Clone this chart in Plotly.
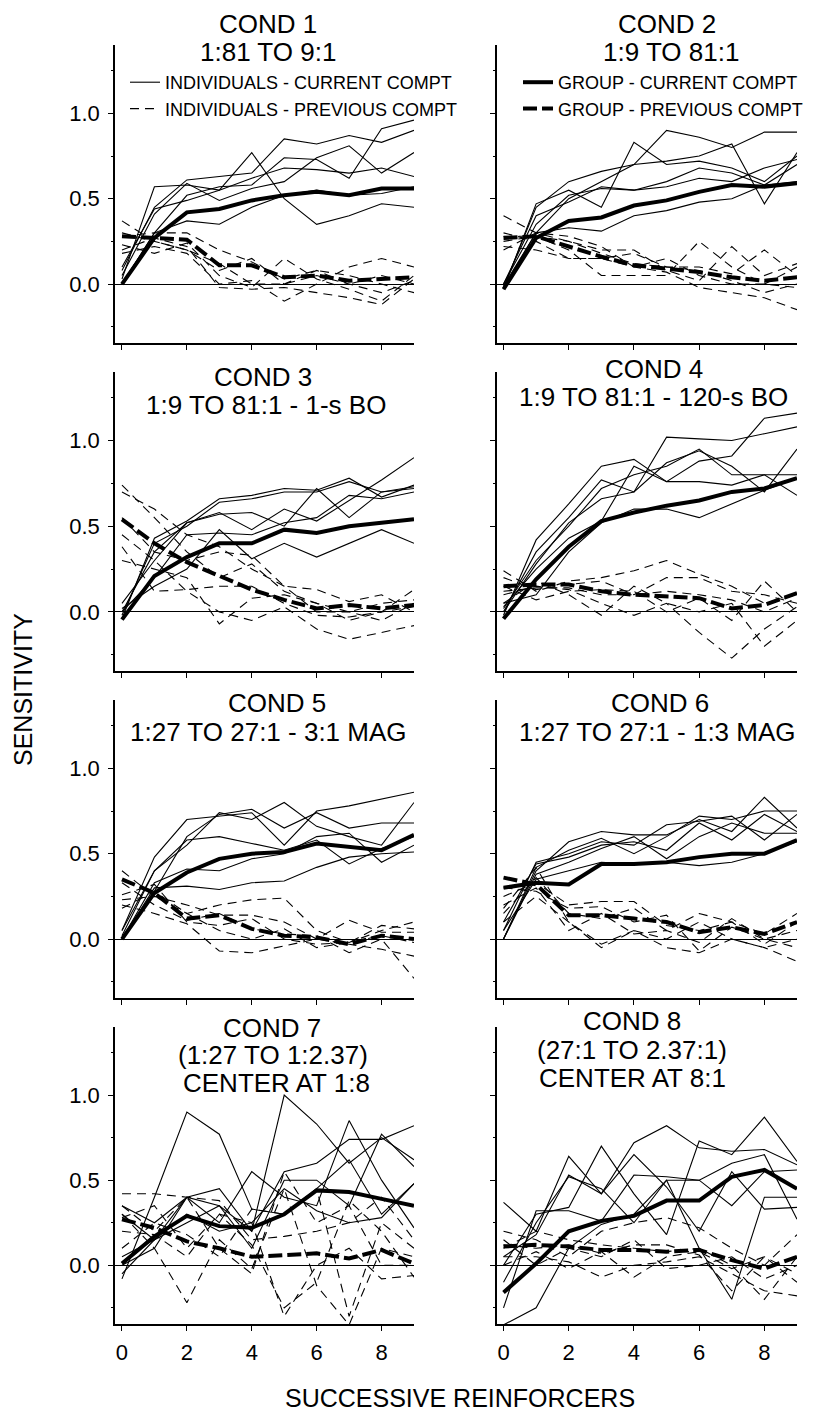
import plotly.graph_objects as go

# ---------------- data ----------------
reinforcers = [0, 1, 2, 3, 4, 5, 6, 7, 8, 9]
x_tick_vals = [0, 2, 4, 6, 8]
y_tick_vals = [0.0, 0.5, 1.0]
y_tick_text = ["0.0", "0.5", "1.0"]

cond_titles = [
    ["COND 1", "1:81 TO 9:1"],
    ["COND 2", "1:9 TO 81:1"],
    ["COND 3", "1:9 TO 81:1 - 1-s BO"],
    ["COND 4", "1:9 TO 81:1 - 120-s BO"],
    ["COND 5", "1:27 TO 27:1 - 3:1 MAG"],
    ["COND 6", "1:27 TO 27:1 - 1:3 MAG"],
    ["COND 7", "(1:27 TO 1:2.37)", "CENTER AT 1:8"],
    ["COND 8", "(27:1 TO 2.37:1)", "CENTER AT 8:1"],
]

legend_names = ["INDIVIDUALS - CURRENT COMPT", "INDIVIDUALS - PREVIOUS COMPT",
                "GROUP - CURRENT COMPT", "GROUP - PREVIOUS COMPT"]

# COND 1
c1_ind_cur = [
    [0.03, 0.57, 0.58, 0.55, 0.77, 0.50, 0.35, 0.40, 0.47, 0.45],
    [0.08, 0.45, 0.61, 0.63, 0.65, 0.85, 0.82, 0.87, 0.83, 0.90],
    [0.00, 0.30, 0.52, 0.57, 0.58, 0.74, 0.73, 0.62, 0.91, 0.96],
    [0.05, 0.41, 0.59, 0.49, 0.56, 0.60, 0.74, 0.81, 0.65, 0.77],
    [0.10, 0.44, 0.49, 0.55, 0.62, 0.68, 0.67, 0.65, 0.68, 0.63],
    [0.00, 0.30, 0.37, 0.35, 0.45, 0.52, 0.55, 0.52, 0.53, 0.57],
]
c1_ind_prev = [
    [0.37, 0.25, 0.20, 0.12, 0.00, 0.00, 0.05, 0.00, -0.05, 0.02],
    [0.28, 0.30, 0.30, 0.20, 0.13, 0.03, 0.08, 0.05, 0.00, -0.05],
    [0.23, 0.18, 0.24, 0.05, -0.02, 0.15, 0.03, -0.03, -0.10, 0.05],
    [0.18, 0.22, 0.18, 0.00, 0.02, -0.10, 0.00, 0.10, 0.15, 0.10],
    [0.30, 0.25, 0.20, 0.08, 0.15, 0.00, 0.08, 0.00, 0.05, 0.00],
    [0.20, 0.27, 0.22, -0.02, -0.03, -0.02, -0.05, -0.08, -0.12, 0.03],
]
c1_grp_cur = [0.00, 0.27, 0.42, 0.44, 0.49, 0.52, 0.54, 0.52, 0.56, 0.56]
c1_grp_prev = [0.28, 0.27, 0.26, 0.11, 0.11, 0.04, 0.05, 0.02, 0.03, 0.04]

# COND 2
c2_ind_cur = [
    [-0.03, 0.47, 0.55, 0.45, 0.83, 0.70, 0.72, 0.68, 0.60, 0.75],
    [-0.02, 0.30, 0.50, 0.60, 0.70, 0.90, 0.86, 0.80, 0.89, 0.89],
    [-0.02, 0.45, 0.60, 0.66, 0.70, 0.72, 0.75, 0.82, 0.47, 0.77],
    [0.00, 0.35, 0.52, 0.56, 0.55, 0.57, 0.62, 0.60, 0.68, 0.73],
    [0.00, 0.40, 0.48, 0.57, 0.55, 0.60, 0.68, 0.65, 0.58, 0.70],
    [-0.01, 0.30, 0.33, 0.31, 0.40, 0.43, 0.48, 0.50, 0.58, 0.60],
]
c2_ind_prev = [
    [0.40, 0.30, 0.28, 0.22, 0.10, 0.15, 0.05, 0.00, 0.00, -0.02],
    [0.25, 0.28, 0.20, 0.05, 0.05, 0.05, 0.25, 0.10, 0.00, 0.10],
    [0.20, 0.30, 0.25, 0.20, 0.20, 0.08, 0.02, 0.22, 0.05, 0.12],
    [0.30, 0.25, 0.15, 0.15, 0.10, 0.07, -0.02, -0.05, -0.08, -0.15],
    [0.22, 0.20, 0.15, 0.15, 0.18, 0.10, 0.10, 0.06, 0.20, 0.05],
    [0.28, 0.28, 0.25, 0.18, 0.12, 0.10, 0.08, 0.02, -0.05, 0.00],
]
c2_grp_cur = [-0.03, 0.27, 0.37, 0.39, 0.46, 0.49, 0.54, 0.58, 0.57, 0.59]
c2_grp_prev = [0.27, 0.28, 0.22, 0.16, 0.11, 0.09, 0.07, 0.04, 0.02, 0.04]

# COND 3
c3_ind_cur = [
    [-0.04, 0.43, 0.53, 0.66, 0.68, 0.72, 0.71, 0.78, 0.67, 0.74],
    [-0.02, 0.40, 0.50, 0.64, 0.66, 0.70, 0.70, 0.76, 0.70, 0.73],
    [0.05, 0.30, 0.52, 0.58, 0.48, 0.60, 0.53, 0.65, 0.77, 0.90],
    [0.00, 0.35, 0.52, 0.57, 0.58, 0.50, 0.72, 0.55, 0.70, 0.72],
    [0.00, 0.20, 0.45, 0.46, 0.45, 0.52, 0.55, 0.68, 0.66, 0.70],
    [0.02, 0.15, 0.25, 0.48, 0.31, 0.40, 0.32, 0.40, 0.48, 0.40],
]
c3_ind_prev = [
    [0.74, 0.55, 0.35, 0.20, 0.28, 0.12, 0.05, -0.05, 0.00, 0.13],
    [0.70, 0.60, 0.45, 0.38, 0.25, 0.15, 0.00, 0.00, -0.05, 0.05],
    [0.45, 0.30, 0.12, 0.00, -0.05, 0.03, -0.10, -0.16, -0.12, -0.08],
    [0.55, 0.35, 0.30, 0.35, 0.33, 0.15, 0.13, 0.06, 0.10, 0.00],
    [0.38, 0.12, 0.13, 0.15, 0.15, 0.05, -0.02, -0.03, 0.00, 0.03],
    [0.30, 0.25, 0.20, -0.07, 0.08, 0.10, 0.05, 0.00, 0.05, 0.07],
]
c3_grp_cur = [-0.045, 0.21, 0.32, 0.40, 0.40, 0.48, 0.46, 0.50, 0.52, 0.54]
c3_grp_prev = [0.54, 0.40, 0.29, 0.21, 0.13, 0.07, 0.02, 0.04, 0.02, 0.04]

# COND 4
c4_ind_cur = [
    [-0.02, 0.42, 0.63, 0.85, 0.89, 0.76, 0.88, 0.91, 1.13, 1.16],
    [0.00, 0.35, 0.55, 0.77, 0.70, 1.02, 1.01, 1.00, 1.04, 1.08],
    [0.02, 0.30, 0.50, 0.72, 0.80, 0.85, 0.95, 0.80, 0.80, 0.80],
    [0.00, 0.28, 0.52, 0.66, 0.70, 0.87, 0.94, 0.85, 0.70, 0.95],
    [0.03, 0.25, 0.43, 0.53, 0.85, 0.76, 0.76, 0.74, 0.80, 0.68],
    [0.05, 0.10, 0.35, 0.52, 0.60, 0.60, 0.55, 0.63, 0.71, 0.78],
]
c4_ind_prev = [
    [0.24, 0.12, 0.18, 0.20, 0.24, 0.30, 0.22, 0.15, 0.05, 0.10],
    [0.20, 0.13, 0.16, 0.18, 0.10, 0.20, 0.20, 0.12, 0.10, 0.05],
    [0.10, 0.15, 0.13, 0.05, -0.02, 0.05, -0.12, -0.27, -0.10, 0.03],
    [0.15, 0.07, 0.12, 0.13, 0.12, 0.00, 0.08, -0.05, 0.18, 0.00],
    [0.05, 0.18, 0.10, -0.02, 0.15, 0.05, 0.00, 0.05, -0.20, -0.05],
    [0.12, 0.14, 0.14, 0.10, 0.10, 0.12, 0.10, 0.07, 0.00, 0.08],
]
c4_grp_cur = [-0.04, 0.19, 0.38, 0.53, 0.58, 0.62, 0.65, 0.70, 0.72, 0.78]
c4_grp_prev = [0.15, 0.16, 0.16, 0.12, 0.10, 0.09, 0.08, 0.02, 0.04, 0.11]

# COND 5
c5_ind_cur = [
    [0.05, 0.48, 0.70, 0.72, 0.74, 0.55, 0.75, 0.78, 0.82, 0.86],
    [0.02, 0.40, 0.55, 0.74, 0.70, 0.80, 0.66, 0.60, 0.55, 0.80],
    [0.00, 0.28, 0.60, 0.73, 0.76, 0.65, 0.74, 0.65, 0.68, 0.68],
    [0.05, 0.40, 0.58, 0.60, 0.56, 0.52, 0.58, 0.44, 0.53, 0.60],
    [0.00, 0.33, 0.41, 0.40, 0.47, 0.50, 0.60, 0.62, 0.45, 0.55],
    [0.00, 0.30, 0.31, 0.29, 0.33, 0.34, 0.42, 0.48, 0.50, 0.51],
]
c5_ind_prev = [
    [0.40, 0.25, 0.15, 0.20, 0.23, 0.24, 0.05, -0.02, 0.05, 0.10],
    [0.23, 0.25, 0.20, 0.14, 0.14, 0.10, 0.00, 0.11, 0.04, 0.04],
    [0.33, 0.20, 0.11, 0.15, 0.06, 0.03, 0.02, -0.08, 0.00, -0.23],
    [0.20, 0.15, 0.09, -0.07, -0.08, -0.04, 0.00, -0.03, -0.06, -0.10],
    [0.26, 0.32, 0.10, 0.08, 0.12, 0.00, -0.03, -0.02, 0.08, 0.06],
    [0.18, 0.28, 0.15, 0.05, 0.00, 0.06, -0.05, -0.02, 0.02, -0.02],
]
c5_grp_cur = [0.00, 0.27, 0.39, 0.47, 0.50, 0.51, 0.56, 0.54, 0.52, 0.61]
c5_grp_prev = [0.35, 0.27, 0.12, 0.14, 0.06, 0.02, 0.01, -0.03, 0.02, 0.00]

# COND 6
c6_ind_cur = [
    [0.00, 0.40, 0.57, 0.63, 0.61, 0.61, 0.70, 0.63, 0.83, 0.65],
    [0.05, 0.45, 0.50, 0.57, 0.55, 0.67, 0.69, 0.72, 0.58, 0.73],
    [0.00, 0.42, 0.52, 0.59, 0.50, 0.60, 0.72, 0.70, 0.75, 0.75],
    [0.10, 0.44, 0.48, 0.55, 0.57, 0.52, 0.68, 0.58, 0.73, 0.63],
    [0.00, 0.38, 0.45, 0.53, 0.60, 0.47, 0.60, 0.68, 0.62, 0.62],
    [0.05, 0.35, 0.40, 0.45, 0.44, 0.45, 0.43, 0.45, 0.50, 0.57],
]
c6_ind_prev = [
    [0.25, 0.33, 0.20, 0.22, 0.22, 0.08, 0.05, 0.10, 0.03, 0.15],
    [0.18, 0.42, 0.10, -0.05, 0.05, 0.00, 0.10, 0.00, -0.05, -0.13],
    [0.20, 0.30, 0.05, 0.15, 0.03, 0.05, -0.02, 0.12, 0.00, 0.05],
    [0.30, 0.28, 0.18, 0.19, 0.10, 0.14, -0.07, 0.07, 0.00, -0.05],
    [0.15, 0.36, 0.15, 0.12, 0.18, 0.05, 0.15, 0.10, -0.03, 0.10],
    [0.10, 0.25, 0.10, -0.03, 0.05, -0.05, -0.08, 0.00, -0.05, 0.00],
]
c6_grp_cur = [0.30, 0.33, 0.32, 0.44, 0.44, 0.45, 0.48, 0.50, 0.50, 0.58]
c6_grp_prev = [0.36, 0.32, 0.14, 0.14, 0.12, 0.10, 0.04, 0.07, 0.03, 0.10]

# COND 7
c7_ind_cur = [
    [-0.08, 0.40, 0.90, 0.77, 0.33, 0.30, 0.45, 0.62, 0.30, 0.48],
    [0.05, 0.15, 0.40, 0.35, 0.20, 1.00, 0.83, 0.60, 0.75, 0.62],
    [0.00, 0.10, 0.40, 0.25, 0.55, 0.40, 0.35, 0.85, 0.50, 0.22],
    [0.35, 0.25, 0.40, 0.45, 0.20, 0.55, 0.60, 0.74, 0.74, 0.82],
    [0.30, 0.15, 0.25, 0.35, 0.10, 0.50, 0.50, 0.35, 0.77, 0.58],
    [-0.05, 0.15, 0.30, 0.20, 0.25, 0.45, 0.32, 0.25, 0.28, 0.48],
]
c7_ind_prev = [
    [0.42, 0.42, 0.40, 0.38, 0.15, 0.17, 0.20, 0.25, 0.40, 0.15],
    [0.30, 0.10, -0.22, 0.15, -0.02, 0.45, -0.12, -0.35, 0.10, 0.05],
    [0.35, 0.20, 0.40, 0.10, -0.05, 0.55, 0.25, 0.35, 0.00, 0.00],
    [0.20, 0.18, 0.05, 0.30, 0.12, -0.25, -0.10, 0.38, 0.20, -0.07],
    [0.28, 0.35, 0.10, 0.30, 0.25, -0.30, 0.00, 0.10, -0.08, -0.06],
    [0.10, 0.25, 0.18, 0.05, 0.33, 0.30, 0.45, -0.30, 0.25, 0.10],
]
c7_grp_cur = [0.01, 0.17, 0.29, 0.23, 0.22, 0.30, 0.44, 0.43, 0.39, 0.35]
c7_grp_prev = [0.27, 0.22, 0.14, 0.10, 0.05, 0.06, 0.07, 0.04, 0.09, 0.01]

# COND 8
c8_ind_cur = [
    [0.37, 0.20, 0.64, 0.42, 0.72, 0.82, 0.69, 0.67, 0.68, 0.59],
    [0.00, 0.30, 0.34, 0.70, 0.42, 0.18, 0.73, 0.65, 0.87, 0.61],
    [-0.25, 0.32, 0.32, 0.26, 0.53, 0.52, 0.50, 0.60, 0.65, 0.27],
    [0.05, 0.18, 0.53, 0.42, 0.65, 0.46, 0.20, 0.55, 0.33, 0.34],
    [-0.10, 0.25, 0.52, 0.45, 0.25, 0.50, 0.50, 0.35, 0.55, 0.56],
    [-0.35, -0.25, 0.10, 0.24, 0.30, 0.50, 0.10, -0.20, 0.40, 0.40],
]
c8_ind_prev = [
    [0.20, 0.15, 0.05, 0.20, 0.25, 0.28, 0.22, 0.10, 0.00, 0.18],
    [0.10, 0.20, 0.15, 0.12, 0.10, 0.08, 0.10, 0.00, -0.20, 0.05],
    [0.05, 0.05, 0.02, -0.07, 0.00, 0.02, 0.05, -0.05, -0.15, -0.18],
    [0.15, 0.00, 0.10, 0.05, 0.15, -0.02, 0.00, 0.05, -0.08, 0.00],
    [0.00, 0.08, -0.02, 0.08, -0.07, 0.05, 0.08, -0.02, 0.05, -0.05],
    [0.12, 0.10, 0.12, 0.07, 0.12, 0.12, 0.06, -0.15, 0.05, -0.10],
]
c8_grp_cur = [-0.16, 0.01, 0.20, 0.26, 0.29, 0.38, 0.38, 0.52, 0.56, 0.45]
c8_grp_prev = [0.11, 0.12, 0.11, 0.09, 0.09, 0.08, 0.09, 0.03, -0.02, 0.05]

panels = [
    (c1_ind_cur, c1_ind_prev, c1_grp_cur, c1_grp_prev),
    (c2_ind_cur, c2_ind_prev, c2_grp_cur, c2_grp_prev),
    (c3_ind_cur, c3_ind_prev, c3_grp_cur, c3_grp_prev),
    (c4_ind_cur, c4_ind_prev, c4_grp_cur, c4_grp_prev),
    (c5_ind_cur, c5_ind_prev, c5_grp_cur, c5_grp_prev),
    (c6_ind_cur, c6_ind_prev, c6_grp_cur, c6_grp_prev),
    (c7_ind_cur, c7_ind_prev, c7_grp_cur, c7_grp_prev),
    (c8_ind_cur, c8_ind_prev, c8_grp_cur, c8_grp_prev),
]

# ---------------- layout geometry ----------------
W, H = 823, 1414
FONT = "Liberation Sans, Arial, sans-serif"

col_px = [(115, 414), (497, 797)]
col_range = [[-0.215, 9.0], [-0.2, 9.0]]
row_px = [(45, 343), (372, 671), (700, 998), (1027, 1324)]
y_range = [-0.345, 1.40]

title_lines_px = [
    [(268, 24), (268, 52)],
    [(667, 24), (671, 52)],
    [(263, 377), (266, 405)],
    [(654, 369), (653, 397)],
    [(277, 703), (268, 732)],
    [(660, 703), (657, 732)],
    [(272, 1028), (273, 1055), (276, 1083)],
    [(632, 1021), (632, 1050), (632, 1078)],
]

thin = dict(color="black", width=1.1)
thin_dash = dict(color="black", width=1.1, dash="9px,6px")
thick = dict(color="black", width=4)
thick_dash = dict(color="black", width=4, dash="14px,5px")

fig = go.Figure()
layout = {}
annotations = []

for i, (ind_cur, ind_prev, grp_cur, grp_prev) in enumerate(panels):
    n = i + 1
    r, c = divmod(i, 2)
    xa = "x" if n == 1 else f"x{n}"
    ya = "y" if n == 1 else f"y{n}"

    for k, ys in enumerate(ind_prev):
        fig.add_trace(go.Scatter(x=reinforcers, y=ys, mode="lines", line=thin_dash,
                                 xaxis=xa, yaxis=ya, name=legend_names[1],
                                 legend="legend", showlegend=(n == 1 and k == 0),
                                 legendrank=2, hoverinfo="skip"))
    for k, ys in enumerate(ind_cur):
        fig.add_trace(go.Scatter(x=reinforcers, y=ys, mode="lines", line=thin,
                                 xaxis=xa, yaxis=ya, name=legend_names[0],
                                 legend="legend", showlegend=(n == 1 and k == 0),
                                 legendrank=1, hoverinfo="skip"))
    fig.add_trace(go.Scatter(x=reinforcers, y=grp_prev, mode="lines", line=thick_dash,
                             xaxis=xa, yaxis=ya, name=legend_names[3],
                             legend="legend2", showlegend=(n == 1), legendrank=2,
                             hoverinfo="skip"))
    fig.add_trace(go.Scatter(x=reinforcers, y=grp_cur, mode="lines", line=thick,
                             xaxis=xa, yaxis=ya, name=legend_names[2],
                             legend="legend2", showlegend=(n == 1), legendrank=1,
                             hoverinfo="skip"))

    x0, x1 = col_px[c]
    t, b = row_px[r]
    bottom = (r == 3)
    layout["xaxis" if n == 1 else f"xaxis{n}"] = dict(
        domain=[x0 / W, x1 / W], range=col_range[c], anchor=ya,
        showline=True, linecolor="black", linewidth=1.5,
        ticks="outside", ticklen=5, tickwidth=1, tickcolor="black",
        tickvals=x_tick_vals, showticklabels=bottom, ticklabelstandoff=3,
        tickfont=dict(family=FONT, size=22, color="black"),
        showgrid=False, zeroline=False, fixedrange=True,
    )
    layout["yaxis" if n == 1 else f"yaxis{n}"] = dict(
        domain=[1 - b / H, 1 - t / H], range=y_range, anchor=xa,
        showline=True, linecolor="black", linewidth=1.5,
        ticks="outside", ticklen=5, tickwidth=1, tickcolor="black",
        tickvals=y_tick_vals, ticktext=y_tick_text, showticklabels=(c == 0),
        ticklabelstandoff=4,
        tickfont=dict(family=FONT, size=22, color="black"),
        minor=dict(dtick=0.25, ticks="outside", ticklen=2, tickcolor="black"),
        showgrid=False, zeroline=True, zerolinecolor="black", zerolinewidth=1,
        fixedrange=True,
    )

    for txt, (px, py) in zip(cond_titles[i], title_lines_px[i]):
        annotations.append(dict(text=txt, x=px / W, y=1 - py / H, xref="paper", yref="paper",
                                xanchor="center", yanchor="middle", showarrow=False,
                                font=dict(family=FONT, size=26, color="black")))

annotations.append(dict(text="SENSITIVITY", x=23 / W, y=1 - 690 / H, xref="paper", yref="paper",
                        xanchor="center", yanchor="middle", textangle=-90, showarrow=False,
                        font=dict(family=FONT, size=25, color="black")))
annotations.append(dict(text="SUCCESSIVE REINFORCERS", x=460 / W, y=1 - 1398 / H,
                        xref="paper", yref="paper", xanchor="center", yanchor="middle",
                        showarrow=False, font=dict(family=FONT, size=25, color="black")))

leg_common = dict(xanchor="left", yanchor="top", bgcolor="rgba(0,0,0,0)", borderwidth=0,
                  font=dict(family=FONT, size=18, color="black"), itemclick=False,
                  itemdoubleclick=False, traceorder="normal")
fig.update_layout(
    width=W, height=H,
    margin=dict(l=0, r=0, t=0, b=0, autoexpand=False),
    paper_bgcolor="white", plot_bgcolor="white",
    font=dict(family=FONT, color="black"),
    annotations=annotations,
    legend=dict(x=125 / W, y=1 - 64 / H, **leg_common),
    legend2=dict(x=518 / W, y=1 - 64 / H, **leg_common),
    **layout,
)

fig.write_html("out.html", config={"displayModeBar": False})
